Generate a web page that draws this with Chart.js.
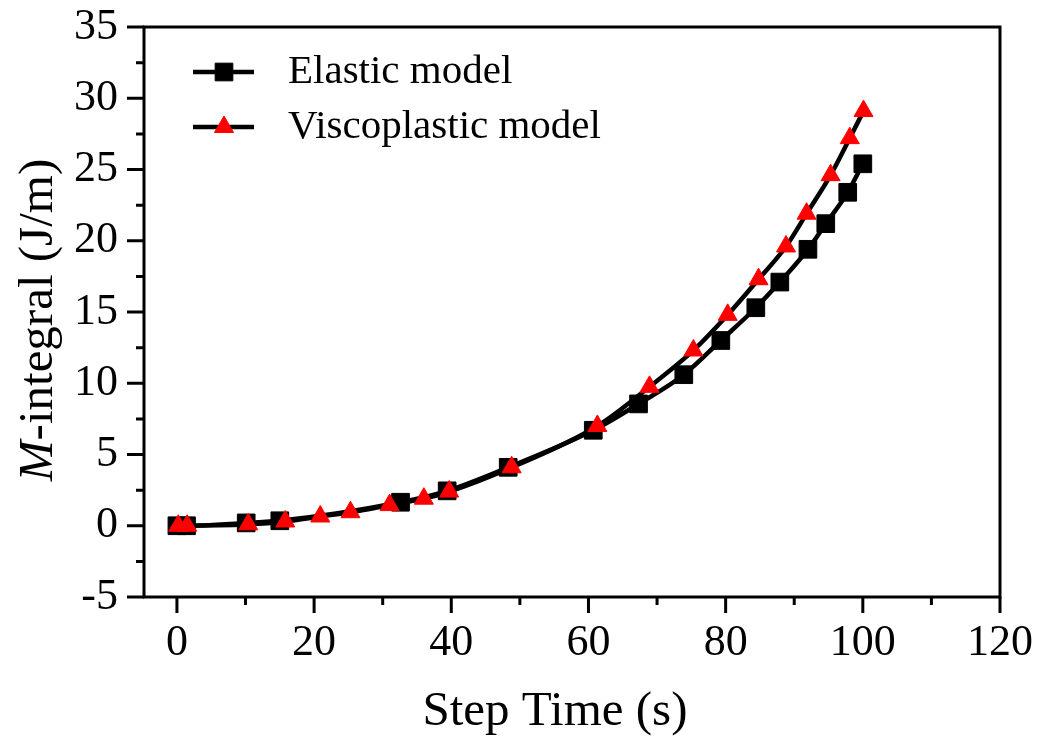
<!DOCTYPE html>
<html>
<head>
<meta charset="utf-8">
<title>M-integral vs step time</title>
<script src="https://cdn.jsdelivr.net/npm/chart.js@4.4.1/dist/chart.umd.min.js"></script>
<style>
  html, body { margin: 0; padding: 0; background: #fff; }
  #wrap { width: 1040px; height: 742px; }
</style>
</head>
<body>
<div id="wrap"><canvas id="chart" width="1040" height="742"></canvas></div>
<script>
// values
const elasticX = [0, 1.4, 10.1, 15, 32.6, 39.4, 48.3, 60.7, 67.3, 73.9, 79.3, 84.4, 87.9, 92, 94.6, 97.8, 100];
const elasticY = [0, 0, 0.2, 0.35, 1.65, 2.45, 4.1, 6.7, 8.55, 10.6, 13.0, 15.3, 17.1, 19.4, 21.2, 23.4, 25.4];

const viscoX = [0.2, 1.5, 10.4, 15.8, 20.9, 25.3, 31, 36, 39.7, 48.8, 61.3, 68.9, 75.3, 80.3, 84.8, 88.8, 91.8, 95.3, 98.1, 100.1];
const viscoY = [0, 0, 0.1, 0.3, 0.65, 0.95, 1.45, 1.9, 2.4, 4.1, 7.0, 9.75, 12.3, 14.8, 17.3, 19.6, 21.9, 24.6, 27.2, 29.1];

const xMajor = [0, 20, 40, 60, 80, 100, 120];
const xMinor = [10, 30, 50, 70, 90, 110];
const yMajor = [-5, 0, 5, 10, 15, 20, 25, 30, 35];
const yMinor = [-2.5, 2.5, 7.5, 12.5, 17.5, 22.5, 27.5, 32.5];

const FONT = "'Liberation Serif', 'Times New Roman', serif";

const toPoints = (xs, ys) => xs.map((x, i) => ({ x: x, y: ys[i] }));

function noPad(s) {
  s.paddingTop = 0;
  s.paddingBottom = 0;
  s.paddingLeft = 0;
  s.paddingRight = 0;
}

// box, tick marks, axis titles and legend
const framePlugin = {
  id: 'frame',
  afterDatasetsDraw(chart) {
    const { ctx, chartArea: a, scales } = chart;
    const xs = scales.x, ys = scales.y;
    ctx.save();
    ctx.strokeStyle = '#000';
    ctx.lineWidth = 3;
    ctx.strokeRect(a.left, a.top, a.right - a.left, a.bottom - a.top);

    ctx.beginPath();
    xMajor.forEach(v => { const p = xs.getPixelForValue(v); ctx.moveTo(p, a.bottom); ctx.lineTo(p, a.bottom + 16); });
    xMinor.forEach(v => { const p = xs.getPixelForValue(v); ctx.moveTo(p, a.bottom); ctx.lineTo(p, a.bottom + 8); });
    yMajor.forEach(v => { const p = ys.getPixelForValue(v); ctx.moveTo(a.left, p); ctx.lineTo(a.left - 17, p); });
    yMinor.forEach(v => { const p = ys.getPixelForValue(v); ctx.moveTo(a.left, p); ctx.lineTo(a.left - 8, p); });
    ctx.stroke();

    // x title
    ctx.fillStyle = '#000';
    ctx.font = '49px ' + FONT;
    ctx.textAlign = 'center';
    ctx.textBaseline = 'alphabetic';
    ctx.fillText('Step Time (s)', 555, 725);

    // y title with italic M
    ctx.save();
    ctx.translate(52, 320);
    ctx.rotate(-Math.PI / 2);
    const italic = 'italic 49px ' + FONT, normal = '49px ' + FONT;
    ctx.font = italic;
    const w1 = ctx.measureText('M').width;
    ctx.font = normal;
    const w2 = ctx.measureText('-integral (J/m)').width;
    let start = -(w1 + w2) / 2;
    ctx.textAlign = 'left';
    ctx.font = italic;
    ctx.fillText('M', start, 0);
    ctx.font = normal;
    ctx.fillText('-integral (J/m)', start + w1, 0);
    ctx.restore();

    // legend
    const items = [chart.data.datasets[1], chart.data.datasets[0]];
    items.forEach((ds, i) => {
      const y = a.top + 45 + i * 55;
      const x0 = a.left + 49;
      ctx.strokeStyle = ds.borderColor;
      ctx.lineWidth = ds.borderWidth;
      ctx.beginPath();
      ctx.moveTo(x0, y);
      ctx.lineTo(x0 + 61, y);
      ctx.stroke();
      ctx.fillStyle = ds.pointBackgroundColor;
      ctx.strokeStyle = ds.pointBorderColor;
      ctx.lineWidth = 1;
      Chart.helpers.drawPoint(ctx, { pointStyle: ds.pointStyle, radius: ds.pointRadius, rotation: 0, borderWidth: 1 }, x0 + 31, y);
      ctx.fillStyle = '#000';
      ctx.font = '41px ' + FONT;
      ctx.textAlign = 'left';
      ctx.textBaseline = 'alphabetic';
      ctx.fillText(ds.label, a.left + 144, y + 11);
    });
    ctx.restore();
  }
};

new Chart(document.getElementById('chart'), {
  type: 'line',
  data: {
    datasets: [
      {
        label: 'Viscoplastic model',
        data: toPoints(viscoX, viscoY),
        borderColor: '#000',
        borderWidth: 4.5,
        pointStyle: 'triangle',
        pointRadius: 11,
        pointBackgroundColor: '#ff0000',
        pointBorderColor: '#ff0000',
        pointBorderWidth: 1,
        cubicInterpolationMode: 'monotone',
        order: 0
      },
      {
        label: 'Elastic model',
        data: toPoints(elasticX, elasticY),
        borderColor: '#000',
        borderWidth: 4.5,
        pointStyle: 'rect',
        pointRadius: 12.5,
        pointBackgroundColor: '#000',
        pointBorderColor: '#000',
        pointBorderWidth: 1,
        cubicInterpolationMode: 'monotone',
        order: 1
      }
    ]
  },
  options: {
    responsive: false,
    animation: false,
    layout: { padding: { top: 27, right: 40, left: 0, bottom: 0 } },
    plugins: { legend: { display: false }, tooltip: { enabled: false } },
    scales: {
      x: {
        type: 'linear',
        min: -4.8,
        max: 120,
        afterBuildTicks: s => { s.ticks = xMajor.map(v => ({ value: v })); },
        afterFit: s => { s.height = 145; noPad(s); },
        grid: { display: false, drawTicks: false },
        border: { display: false },
        ticks: { color: '#000', padding: 20, font: { family: FONT, size: 44 }, maxRotation: 0, callback: v => String(v) }
      },
      y: {
        type: 'linear',
        min: -5,
        max: 35,
        afterBuildTicks: s => { s.ticks = yMajor.map(v => ({ value: v })); },
        afterFit: s => { s.width = 144; noPad(s); },
        grid: { display: false, drawTicks: false },
        border: { display: false },
        ticks: { color: '#000', padding: 26, font: { family: FONT, size: 44 }, callback: v => String(v) }
      }
    }
  },
  plugins: [framePlugin]
});
</script>
</body>
</html>
